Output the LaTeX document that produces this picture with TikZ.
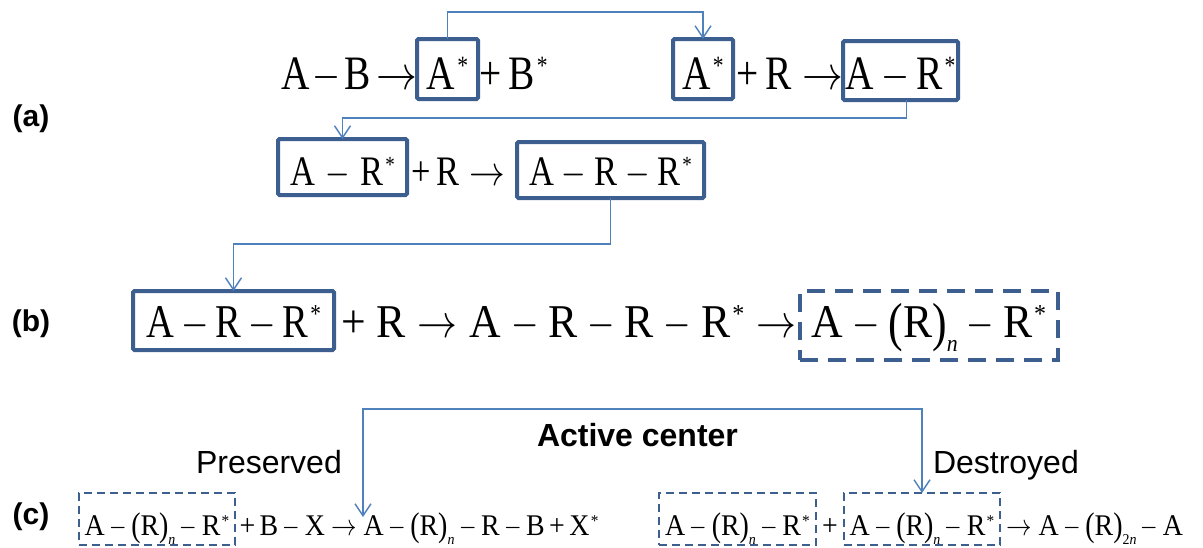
\RequirePackage{fix-cm}
\documentclass[tikz,border=0pt]{standalone}
\usepackage{fontspec}
\usepackage{graphicx}
\usetikzlibrary{arrows.meta}
\newfontfamily\eqf[FakeStretch=0.82]{Liberation Serif}
\newfontfamily\eqw[FakeStretch=0.93]{Liberation Serif}
\newfontfamily\labf{Liberation Sans}
\definecolor{boxblue}{HTML}{3C5F8F}
\definecolor{arrblue}{HTML}{4F81BD}
\def\kk{0.15em}
\def\ka{0.22em}
\newcommand\mi{\kern\kk\scalebox{0.75}[1]{$-$}\kern\kk}
\newcommand\pl{\kern\kk+\kern\kk}
\newcommand\ar{\kern\ka\scalebox{0.85}[1]{$\rightarrow$}\kern\ka}
\newcommand\arz{\kern\ka\scalebox{0.85}[1]{$\rightarrow$}}
\newcommand\sr{\kern0.04em\raisebox{0.3em}{\scalebox{0.55}{*}}}
\newcommand\lp{\raisebox{-0.065em}{\scalebox{1}[1.14]{(}}}
\newcommand\rp{\raisebox{-0.065em}{\scalebox{1}[1.14]{)}}}
\newcommand\sbs[1]{\raisebox{-0.3em}{\scalebox{0.5}{\itshape #1}}}
\begin{document}
\begin{tikzpicture}[x=1pt,y=-1pt,
  every node/.style={inner sep=0pt, outer sep=0pt},
  solidbox/.style={draw=boxblue, line width=4pt, rounded corners=1.5pt},
  dashbox/.style={draw=boxblue, line width=4pt, dash pattern=on 18pt off 10pt},
  dashboxs/.style={draw=boxblue, line width=2pt, dash pattern=on 8pt off 5pt},
  conn/.style={draw=arrblue, line width=1.4pt, -{Straight Barb[length=12pt,width=16pt,line width=1.4pt]}},
  conn2/.style={draw=arrblue, line width=1.4pt, {Straight Barb[length=12pt,width=16pt,line width=1.4pt]}-{Straight Barb[length=12pt,width=16pt,line width=1.4pt]}},
  eqA/.style={font=\eqf\fontsize{48}{50}\selectfont},
  eqB/.style={font=\eqf\fontsize{42}{44}\selectfont},
  eqC/.style={font=\eqf\fontsize{47}{49}\selectfont},
  eqCw/.style={font=\eqw\fontsize{47}{49}\selectfont},
  eqD/.style={font=\eqw\fontsize{30}{32}\selectfont},
  lab/.style={font=\labf\bfseries\fontsize{30}{32}\selectfont},
  word/.style={font=\labf\fontsize{32}{34}\selectfont, anchor=base west},
]
\useasboundingbox (0,0) rectangle (1203,547);
% labels
\node[lab] (la) at (31,119) {(a)};
\node[lab] (lb) at (31,324) {(b)};
\node[lab] (lc) at (31,517) {(c)};
% row 1
\node[eqA, anchor=base east] (a1) at (417,89) {\def\kk{0.07em}\def\ka{0.12em}A\mi B\arz};
\node[solidbox, eqA, anchor=base, minimum width=61pt, text height=50pt, text depth=10pt] (b1) at (447.5,89) {A\sr};
\node[eqA, anchor=base west] (a2) at (472,89) {\pl B\sr};
\node[solidbox, eqA, anchor=base, minimum width=60pt, text height=50pt, text depth=10pt] (b2) at (703,89) {A\sr};
\node[eqA, anchor=base west] (a3) at (729,89) {\pl R\arz};
\node[solidbox, eqA, anchor=base, minimum width=115pt, text height=48pt, text depth=11pt] (b3) at (900.5,89) {A\mi R\sr};
% row 2
\node[solidbox, eqB, anchor=base, minimum width=129pt, text height=46pt, text depth=10pt] (b4) at (342.5,185) {\def\kk{0.25em}A\mi R\sr};
\node[eqB, anchor=base west] (a4) at (405,185) {\pl R\ar};
\node[solidbox, eqB, anchor=base, minimum width=187pt, text height=43pt, text depth=13pt] (b5) at (610.5,185) {\def\kk{0.19em}A\mi R\mi R\sr};
% row b
\node[solidbox, eqC, anchor=base, minimum width=201pt, text height=46pt, text depth=13pt] (b6) at (233.5,337) {A\mi R\mi R\sr};
\node[eqCw, anchor=base west] (a5) at (332,337) {\def\kk{0.21em}\def\ka{0.26em}\pl R\ar A\mi R\mi R\mi R\sr\arz};
\node[dashbox, eqCw, anchor=base, minimum width=258pt, text height=46pt, text depth=23pt] (b7) at (929,337) {\def\kk{0.19em}A\mi\lp R\rp\sbs{n}\mi R\sr};
% row c
\node[word] (pres) at (196,473) {Preserved};
\node[word, font=\labf\bfseries\fontsize{32}{34}\selectfont] (act) at (537,446) {Active center};
\node[word] (des) at (933,473) {Destroyed};
\node[dashboxs, eqD, anchor=base, minimum width=156pt, text height=42pt, text depth=10pt] (c1) at (157,535) {A\mi\lp R\rp\sbs{n}\mi R\sr};
\node[eqD, anchor=base west] (a6) at (235,535) {\pl B\mi X\ar A\mi\lp R\rp\sbs{n}\mi R\mi B\pl X\sr};
\node[dashboxs, eqD, anchor=base, minimum width=157pt, text height=42pt, text depth=10pt] (c2) at (737.5,535) {A\mi\lp R\rp\sbs{n}\mi R\sr};
\node[eqD, anchor=base] (a7) at (830,535) {+};
\node[dashboxs, eqD, anchor=base, minimum width=156pt, text height=42pt, text depth=10pt] (c3) at (922,535) {A\mi\lp R\rp\sbs{n}\mi R\sr};
\node[eqD, anchor=base west] (a8) at (1000,535) {\ar A\mi\lp R\rp\sbs{\upshape 2\itshape n}\mi A};
% connectors
\draw[conn] (b1.north) -- ++(0,-27) -| (b2.north);
\draw[conn] ([xshift=6pt]b3.south) -- ++(0,18) -| (b4.north);
\draw[conn] (b5.south) -- ++(0,46) -| (b6.north);
\coordinate (pc) at (363,517);
\coordinate (ctop) at (922,409);
\draw[conn2] (pc) |- (ctop) -- (c3.north);
\end{tikzpicture}
\end{document}
